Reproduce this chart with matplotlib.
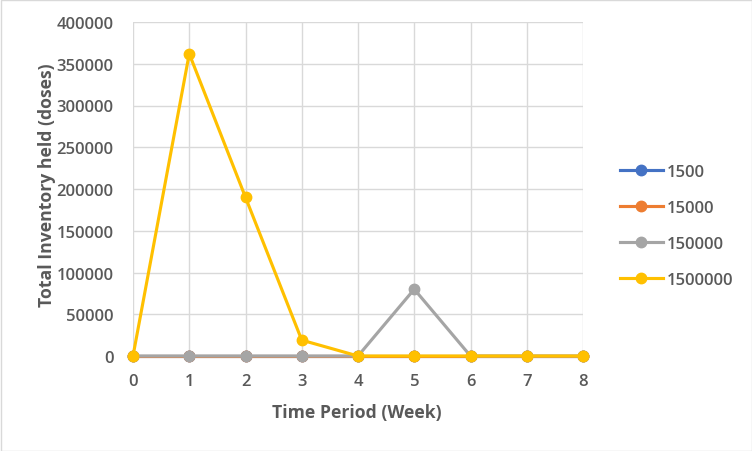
import matplotlib
matplotlib.use("Agg")
import matplotlib.pyplot as plt
from matplotlib.patches import Rectangle

weeks = [0, 1, 2, 3, 4, 5, 6, 7, 8]
s1500 = [0, 0, 0, 0, 0, 0, 0, 0, 0]
s15000 = [0, 0, 0, 0, 0, 0, 0, 0, 0]
s150000 = [0, 0, 0, 0, 0, 80000, 0, 0, 0]
s1500000 = [0, 362000, 190000, 19000, 0, 0, 0, 0, 0]
series_names = ["1500", "15000", "150000", "1500000"]
colors = ["#4472C4", "#ED7D31", "#A5A5A5", "#FFC000"]
xlabel = "Time Period (Week)"
ylabel = "Total Inventory held (doses)"

plt.rcParams['font.family'] = ['Open Sans', 'DejaVu Sans']
text_color = "#595959"

fig = plt.figure(figsize=(7.52, 4.52), dpi=100)
ax = fig.add_axes([133/752, 95/452, 450/752, 334/452])

for vals, name, c in zip([s1500, s15000, s150000, s1500000], series_names, colors):
    ax.plot(weeks, vals, color=c, lw=2.25, marker='o', markersize=7.5, label=name,
            clip_on=False, zorder=3)

ax.set_xlim(0, 8)
ax.set_ylim(0, 400000)
ax.set_xticks(weeks)
ax.set_yticks(range(0, 400001, 50000))
ax.grid(True, color="#D9D9D9", lw=1)
ax.set_axisbelow(True)
for s in ['top', 'right', 'left']:
    ax.spines[s].set_visible(False)
ax.spines['bottom'].set_color("#D9D9D9")
ax.tick_params(length=0, labelsize=12, labelcolor=text_color)
ax.tick_params(axis='x', pad=12)
ax.tick_params(axis='y', pad=14)
for t in ax.get_xticklabels() + ax.get_yticklabels():
    t.set_fontweight('semibold')

fig.text(357/752, 1 - 413/452, xlabel, fontsize=12.7, fontweight='bold', color=text_color,
         ha='center', va='center')
fig.text(47/752, 1 - 185/452, ylabel, fontsize=12.7, fontweight='bold', color=text_color,
         ha='center', va='center', rotation=90)

leg = fig.legend(loc='center left', bbox_to_anchor=(613/752, 225/452), frameon=False,
                 fontsize=12, labelspacing=1.2, handlelength=2.6, handletextpad=0.2,
                 borderaxespad=0)
for t in leg.get_texts():
    t.set_color(text_color)
    t.set_fontweight('semibold')

fig.patches.append(Rectangle((0.5/752, 0.5/452), 1 - 1/752, 1 - 1/452, transform=fig.transFigure,
                             fill=False, edgecolor="#D9D9D9", lw=1))

fig.savefig("out.png", dpi=100)
